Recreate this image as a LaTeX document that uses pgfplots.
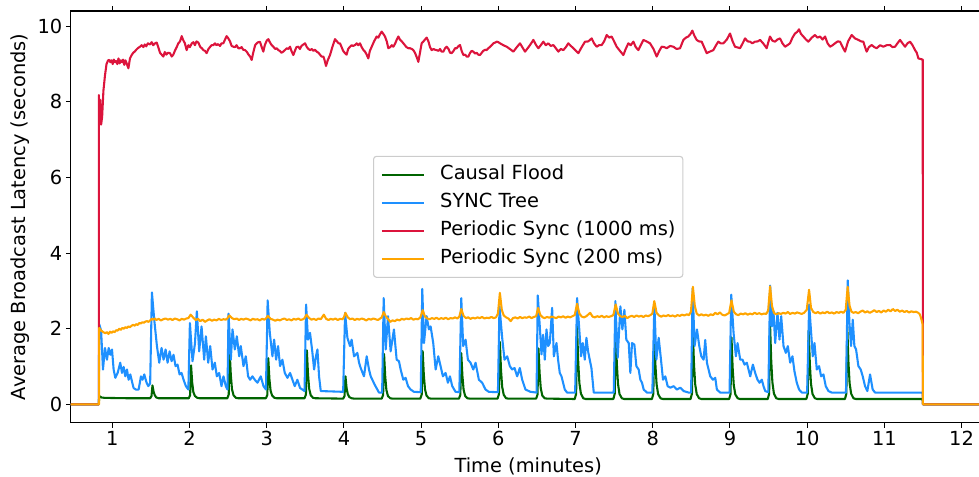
\documentclass[border=0pt]{standalone}
\usepackage{fontspec}
\setmainfont{DejaVu Sans}
\usepackage{pgfplots}
\pgfplotsset{compat=1.18}
\definecolor{cfgreen}{HTML}{006400}
\definecolor{stblue}{HTML}{1E90FF}
\definecolor{psred}{HTML}{DC143C}
\definecolor{psorange}{HTML}{FFA500}
\newcommand\ff{\fontsize{19.4bp}{23bp}\selectfont}
\begin{document}
\begin{tikzpicture}
\begin{axis}[
  at={(0,0)}, anchor=south west,
  scale only axis, width=915bp, height=411.7bp,
  xmin=0.461, xmax=12.313, ymin=-0.487, ymax=10.405,
  xtick={1,2,3,4,5,6,7,8,9,10,11,12}, ytick={0,2,4,6,8,10},
  tick align=outside, major tick length=4.9bp,
  tick style={line width=1.1bp, black},
  axis line style={line width=1.1bp},
  tick label style={font=\ff},
  /pgf/number format/assume math mode=true,
  xlabel={Time (minutes)}, ylabel={Average Broadcast Latency (seconds)},
  label style={font=\ff},
  xlabel style={at={(axis description cs:0.5,-0.105)}, anchor=center},
  ylabel style={at={(axis description cs:-0.0553,0.5)}, anchor=center},
  every axis plot/.append style={line width=2.08bp, line join=round},
  legend cell align=left,
  legend image code/.code={\draw[#1] (0bp,0bp) -- (41.7bp,0bp);},
  legend style={at={(axis description cs:0.5,0.5)}, anchor=center,
    draw=black!20, line width=1.1bp, rounded corners=3bp,
    fill=white, fill opacity=0.8, text opacity=1, font=\ff,
    inner xsep=7.3bp, inner ysep=9bp, row sep=9bp, column sep=15.6bp,
    nodes={inner xsep=0bp, inner ysep=0bp, text height=14.5bp, text depth=4.5bp}},
]
% Causal Flood
\addplot[cfgreen] coordinates {
(0.3,0)(0.825,0)(0.83,0.22)(0.86,0.18)(0.9,0.17)(1.2,0.16)
(1.49,0.16)(1.508,0.22)(1.52,0.5)(1.535,0.33)(1.55,0.24)(1.57,0.18)(1.6,0.16)
(1.99,0.16)(2.008,0.24)(2.02,1.03)(2.035,0.57)(2.05,0.32)(2.07,0.22)(2.1,0.17)(2.13,0.16)
(2.49,0.16)(2.508,0.26)(2.52,1.41)(2.535,0.78)(2.55,0.4)(2.57,0.24)(2.6,0.17)(2.63,0.16)
(2.99,0.16)(3.008,0.25)(3.02,1.22)(3.035,0.67)(3.05,0.36)(3.07,0.23)(3.1,0.17)(3.13,0.16)
(3.49,0.16)(3.508,0.26)(3.52,1.43)(3.535,0.79)(3.55,0.41)(3.57,0.24)(3.6,0.17)(3.63,0.16)
(3.99,0.15)(4.008,0.22)(4.02,0.74)(4.035,0.42)(4.05,0.27)(4.07,0.19)(4.1,0.16)(4.13,0.15)
(4.49,0.15)(4.508,0.25)(4.52,1.33)(4.535,0.74)(4.55,0.38)(4.57,0.22)(4.6,0.16)(4.63,0.15)
(4.99,0.15)(5.008,0.26)(5.02,1.41)(5.035,0.78)(5.05,0.4)(5.07,0.23)(5.1,0.16)(5.13,0.15)
(5.49,0.15)(5.508,0.25)(5.52,1.35)(5.535,0.75)(5.55,0.39)(5.57,0.22)(5.6,0.16)(5.63,0.15)
(5.99,0.15)(6.008,0.27)(6.02,1.65)(6.035,0.9)(6.05,0.46)(6.07,0.25)(6.1,0.16)(6.13,0.15)
(6.49,0.15)(6.508,0.26)(6.52,1.48)(6.535,0.82)(6.55,0.42)(6.57,0.23)(6.6,0.16)(6.63,0.15)
(6.99,0.14)(7.008,0.28)(7.02,2.05)(7.035,1.12)(7.05,0.56)(7.07,0.28)(7.1,0.16)(7.13,0.14)
(7.49,0.14)(7.508,0.28)(7.52,1.96)(7.535,1.07)(7.55,0.54)(7.57,0.27)(7.6,0.16)(7.63,0.14)
(7.99,0.14)(8.008,0.28)(8.02,1.9)(8.035,1.04)(8.05,0.53)(8.07,0.27)(8.1,0.16)(8.13,0.14)
(8.49,0.14)(8.508,0.28)(8.52,1.9)(8.535,1.04)(8.55,0.53)(8.57,0.27)(8.6,0.16)(8.63,0.14)
(8.99,0.14)(9.008,0.27)(9.02,1.77)(9.035,0.97)(9.05,0.5)(9.07,0.26)(9.1,0.16)(9.13,0.14)
(9.49,0.14)(9.508,0.28)(9.52,2.1)(9.535,1.15)(9.55,0.58)(9.57,0.28)(9.6,0.16)(9.63,0.14)
(9.99,0.14)(10.008,0.28)(10.02,1.96)(10.035,1.07)(10.05,0.54)(10.07,0.27)(10.1,0.16)(10.13,0.14)
(10.49,0.14)(10.508,0.28)(10.52,2.05)(10.535,1.12)(10.55,0.56)(10.57,0.28)(10.6,0.16)(10.63,0.14)
(11.497,0.14)(11.5,0)(12.4,0)
};
\addlegendentry{Causal Flood}
% SYNC Tree
\addplot[stblue] coordinates {
(0.3,0)(0.825,0)(0.83,2.12)(0.855,1.95)(0.879,0.92)(0.905,1.49)(0.931,1.18)(0.953,1.49)(0.974,1.31)(0.996,1.45)(1.017,0.92)(1.039,0.70)(1.069,0.83)(1.103,1.10)(1.125,0.83)(1.147,0.99)(1.168,0.74)(1.190,0.92)(1.211,0.65)(1.233,0.79)(1.254,0.61)(1.276,0.43)(1.306,0.39)(1.341,0.39)(1.371,0.74)(1.392,0.65)(1.414,0.79)(1.444,0.57)(1.466,0.48)(1.49,0.55)
(1.513,2.96)(1.543,2.24)(1.578,1.54)(1.608,1.10)(1.638,1.49)(1.664,1.18)(1.690,1.45)(1.716,1.10)(1.742,1.40)(1.768,1.14)(1.793,1.31)(1.819,1.01)(1.845,1.05)(1.871,0.79)(1.897,0.83)(1.923,0.65)(1.953,0.48)(1.985,0.39)
(2.005,2.15)(2.039,1.14)(2.07,1.6)(2.095,2.46)(2.125,1.40)(2.156,2.06)(2.190,1.18)(2.212,1.80)(2.242,1.10)(2.268,1.54)(2.298,0.92)(2.328,1.10)(2.354,0.74)(2.384,0.83)(2.414,0.48)(2.440,0.74)(2.470,0.48)(2.492,0.39)
(2.505,2.40)(2.535,1.18)(2.557,1.98)(2.587,1.45)(2.613,1.80)(2.643,1.27)(2.664,1.54)(2.699,1.01)(2.729,1.27)(2.759,0.74)(2.785,0.65)(2.815,0.74)(2.845,0.65)(2.880,0.57)(2.923,0.74)(2.958,0.48)(2.99,0.39)
(3.012,2.75)(3.040,1.89)(3.074,1.27)(3.096,1.71)(3.122,1.18)(3.147,1.54)(3.173,1.01)(3.203,1.18)(3.234,0.83)(3.268,0.70)(3.303,0.83)(3.333,0.65)(3.363,0.48)(3.397,0.65)(3.432,0.43)(3.462,0.39)(3.49,0.35)
(3.51,2.64)(3.535,1.71)(3.561,1.89)(3.59,1.40)(3.614,0.92)(3.636,1.25)(3.657,1.45)(3.678,0.74)(3.70,0.35)(3.99,0.33)
(4.015,2.42)(4.045,1.76)(4.079,1.54)(4.10,1.71)(4.131,1.27)(4.174,1.36)(4.196,1.10)(4.217,0.96)(4.26,0.74)(4.295,1.27)(4.325,0.92)(4.347,0.74)(4.368,0.65)(4.398,0.52)(4.433,0.39)(4.454,0.31)(4.495,0.31)
(4.515,2.81)(4.541,1.45)(4.571,2.33)(4.605,1.40)(4.648,1.98)(4.683,1.18)(4.713,1.14)(4.735,0.92)(4.769,0.65)(4.799,0.70)(4.830,0.48)(4.864,0.39)(4.907,0.33)(4.995,0.32)
(5.015,3.05)(5.037,1.62)(5.071,2.33)(5.101,1.98)(5.123,2.06)(5.157,1.62)(5.188,0.92)(5.222,1.27)(5.252,1.01)(5.282,0.74)(5.317,0.83)(5.347,0.57)(5.373,0.74)(5.403,0.48)(5.446,0.33)(5.495,0.32)
(5.52,2.81)(5.545,1.54)(5.576,1.71)(5.606,1.18)(5.64,1.10)(5.675,0.92)(5.705,1.10)(5.727,0.87)(5.748,0.65)(5.791,0.57)(5.834,0.39)(5.877,0.33)(5.995,0.32)
(6.015,2.59)(6.05,1.76)(6.08,1.18)(6.115,1.27)(6.149,1.01)(6.179,0.92)(6.21,0.96)(6.244,0.74)(6.278,0.96)(6.309,0.65)(6.352,0.39)(6.416,0.33)(6.495,0.31)
(6.511,2.88)(6.537,2.06)(6.559,1.32)(6.58,1.84)(6.602,1.18)(6.624,1.98)(6.645,1.54)(6.667,1.62)(6.697,2.55)(6.719,1.27)(6.753,1.62)(6.774,1.18)(6.796,0.83)(6.818,0.74)(6.839,0.57)(6.861,0.39)(6.891,0.31)(6.995,0.31)
(7.02,2.81)(7.046,2.06)(7.072,1.27)(7.094,1.62)(7.12,1.18)(7.141,1.76)(7.163,1.40)(7.184,1.18)(7.206,0.96)(7.236,0.31)(7.495,0.31)
(7.516,2.73)(7.546,1.23)(7.581,2.59)(7.607,1.98)(7.633,2.50)(7.658,1.71)(7.689,1.62)(7.71,0.83)(7.732,1.62)(7.762,1.58)(7.788,1.01)(7.818,0.92)(7.84,0.65)(7.861,0.57)(7.883,0.39)(7.926,0.31)(7.995,0.31)
(8.021,2.64)(8.047,1.18)(8.077,1.76)(8.107,1.18)(8.133,0.65)(8.163,0.74)(8.193,0.48)(8.228,0.44)(8.271,0.48)(8.314,0.39)(8.357,0.44)(8.40,0.35)(8.465,0.31)(8.497,0.31)
(8.517,3.07)(8.542,1.54)(8.573,1.98)(8.603,1.54)(8.629,1.27)(8.659,1.18)(8.68,1.7)(8.702,1.10)(8.745,0.74)(8.78,0.65)(8.81,0.70)(8.831,0.39)(8.874,0.31)(8.995,0.31)
(9.017,2.90)(9.047,1.89)(9.077,1.27)(9.099,1.62)(9.133,1.18)(9.163,1.18)(9.189,1.05)(9.219,1.10)(9.241,0.92)(9.263,0.74)(9.297,1.05)(9.327,0.83)(9.357,0.65)(9.383,0.57)(9.413,0.65)(9.435,0.48)(9.457,0.35)(9.497,0.32)
(9.521,3.14)(9.543,2.06)(9.564,2.46)(9.586,1.62)(9.616,2.42)(9.642,1.71)(9.664,2.33)(9.694,1.54)(9.724,1.36)(9.75,1.54)(9.78,1.10)(9.81,1.27)(9.836,0.87)(9.866,0.57)(9.896,0.39)(9.931,0.31)(10.0,0.31)
(10.026,2.64)(10.052,1.89)(10.073,1.27)(10.095,1.62)(10.125,0.92)(10.155,1.01)(10.181,0.74)(10.211,0.79)(10.241,0.48)(10.276,0.35)(10.319,0.31)(10.503,0.31)
(10.526,3.28)(10.548,2.15)(10.569,1.54)(10.591,2.24)(10.612,1.54)(10.634,1.45)(10.664,1.01)(10.694,0.92)(10.72,0.74)(10.75,0.48)(10.78,0.35)(10.815,0.79)(10.849,0.39)(10.88,0.31)(11.497,0.31)(11.5,0)(12.4,0)
};
\addlegendentry{SYNC Tree}
% Periodic Sync (1000 ms)
\addplot[psred] coordinates {
(0.3,0)(0.825,0)(0.826,8.18)(0.835,7.45)(0.845,8.05)(0.855,7.40)(0.868,7.6)(0.885,8.3)(0.905,8.7)(0.925,9.0)(0.945,9.1)(0.961,9.11)(0.975,9.05)(0.99,9.1)(1.005,9.0)(1.02,9.12)(1.035,9.05)(1.05,9.08)(1.065,9.0)(1.08,9.15)(1.095,9.02)(1.11,9.1)(1.125,9.05)(1.14,9.12)(1.155,8.98)(1.17,9.1)(1.186,9.02)(1.208,8.89)(1.229,9.15)(1.251,9.24)(1.27,9.3)(1.29,9.33)(1.31,9.38)(1.33,9.42)(1.359,9.46)(1.38,9.5)(1.402,9.45)(1.42,9.52)(1.44,9.47)(1.46,9.55)(1.488,9.52)(1.51,9.58)(1.53,9.5)(1.555,9.55)(1.575,9.57)(1.595,9.45)(1.618,9.3)(1.639,9.25)(1.661,9.2)(1.68,9.32)(1.70,9.25)(1.72,9.3)(1.747,9.29)(1.77,9.2)(1.79,9.25)(1.81,9.35)(1.834,9.45)(1.855,9.55)(1.877,9.6)(1.899,9.74)(1.915,9.65)(1.94,9.55)(1.963,9.37)(1.985,9.5)(2.005,9.45)(2.03,9.55)(2.05,9.58)(2.07,9.5)(2.09,9.6)(2.114,9.57)(2.14,9.45)(2.16,9.42)(2.179,9.37)(2.2,9.35)(2.222,9.29)(2.245,9.4)(2.265,9.45)(2.285,9.5)(2.309,9.5)(2.33,9.55)(2.35,9.5)(2.37,9.53)(2.395,9.48)(2.415,9.55)(2.438,9.55)(2.46,9.65)(2.481,9.74)(2.503,9.68)(2.525,9.6)(2.545,9.48)(2.568,9.46)(2.59,9.45)(2.61,9.5)(2.632,9.42)(2.654,9.42)(2.675,9.45)(2.695,9.38)(2.72,9.37)(2.74,9.33)(2.765,9.25)(2.785,9.2)(2.805,9.11)(2.825,9.3)(2.85,9.5)(2.87,9.55)(2.89,9.58)(2.913,9.59)(2.935,9.45)(2.956,9.33)(2.975,9.5)(3.0,9.62)(3.021,9.66)(3.04,9.58)(3.065,9.5)(3.086,9.46)(3.11,9.4)(3.13,9.42)(3.15,9.37)(3.17,9.35)(3.19,9.3)(3.215,9.33)(3.24,9.38)(3.26,9.42)(3.28,9.4)(3.302,9.46)(3.32,9.35)(3.345,9.24)(3.365,9.35)(3.385,9.45)(3.41,9.46)(3.43,9.4)(3.45,9.48)(3.475,9.52)(3.496,9.55)(3.52,9.45)(3.54,9.4)(3.561,9.37)(3.585,9.4)(3.605,9.35)(3.625,9.38)(3.647,9.33)(3.67,9.3)(3.69,9.25)(3.71,9.2)(3.734,9.2)(3.75,9.1)(3.768,8.95)(3.79,9.1)(3.82,9.24)(3.85,9.45)(3.885,9.66)(3.91,9.6)(3.93,9.55)(3.949,9.55)(3.97,9.45)(3.99,9.35)(4.014,9.29)(4.035,9.25)(4.055,9.4)(4.079,9.46)(4.1,9.5)(4.12,9.48)(4.144,9.505)(4.165,9.55)(4.185,9.5)(4.208,9.55)(4.23,9.45)(4.25,9.38)(4.273,9.33)(4.295,9.25)(4.316,9.15)(4.336,9.35)(4.36,9.46)(4.39,9.6)(4.424,9.73)(4.445,9.7)(4.465,9.78)(4.489,9.86)(4.51,9.8)(4.532,9.73)(4.555,9.6)(4.575,9.42)(4.6,9.45)(4.62,9.5)(4.64,9.46)(4.665,9.55)(4.685,9.65)(4.705,9.73)(4.725,9.65)(4.75,9.6)(4.77,9.55)(4.79,9.5)(4.81,9.45)(4.835,9.42)(4.856,9.42)(4.88,9.4)(4.899,9.37)(4.92,9.3)(4.94,9.2)(4.964,9.06)(4.985,9.3)(5.007,9.55)(5.03,9.6)(5.05,9.65)(5.072,9.7)(5.095,9.6)(5.115,9.45)(5.137,9.37)(5.16,9.4)(5.18,9.38)(5.202,9.37)(5.225,9.35)(5.245,9.4)(5.265,9.33)(5.288,9.33)(5.31,9.42)(5.331,9.46)(5.355,9.4)(5.375,9.3)(5.396,9.29)(5.42,9.35)(5.44,9.42)(5.461,9.42)(5.485,9.48)(5.504,9.505)(5.525,9.35)(5.547,9.24)(5.57,9.25)(5.59,9.2)(5.612,9.2)(5.635,9.3)(5.655,9.35)(5.676,9.33)(5.7,9.28)(5.72,9.3)(5.74,9.25)(5.763,9.24)(5.785,9.3)(5.805,9.35)(5.83,9.38)(5.849,9.37)(5.87,9.42)(5.89,9.45)(5.915,9.5)(5.936,9.55)(5.96,9.57)(5.979,9.594)(6.0,9.58)
(6.022,9.55)(6.065,9.5)(6.108,9.46)(6.15,9.4)(6.195,9.33)(6.24,9.45)(6.281,9.55)(6.31,9.45)(6.346,9.33)(6.38,9.42)(6.411,9.505)(6.454,9.64)(6.49,9.5)(6.519,9.42)(6.55,9.5)(6.583,9.594)(6.615,9.5)(6.648,9.55)(6.68,9.48)(6.713,9.505)(6.745,9.42)(6.778,9.33)(6.81,9.4)(6.842,9.37)(6.875,9.45)(6.907,9.55)(6.94,9.48)(6.972,9.42)(7.005,9.35)(7.037,9.29)(7.08,9.45)(7.123,9.594)(7.165,9.6)(7.209,9.68)(7.24,9.55)(7.274,9.46)(7.305,9.5)(7.339,9.505)(7.37,9.6)(7.404,9.77)(7.435,9.7)(7.468,9.73)(7.5,9.6)(7.533,9.46)(7.575,9.35)(7.62,9.24)(7.65,9.4)(7.684,9.55)(7.715,9.5)(7.749,9.594)(7.78,9.45)(7.814,9.37)(7.845,9.5)(7.879,9.64)(7.92,9.6)(7.965,9.55)(8.01,9.4)(8.051,9.2)(8.085,9.35)(8.116,9.46)(8.15,9.45)(8.181,9.42)(8.225,9.48)(8.267,9.46)(8.31,9.4)(8.354,9.42)(8.397,9.64)(8.43,9.7)(8.461,9.73)(8.49,9.8)(8.513,9.885)(8.54,9.75)(8.569,9.64)(8.6,9.6)(8.634,9.594)(8.665,9.45)(8.699,9.29)(8.74,9.33)(8.785,9.37)(8.82,9.5)(8.85,9.594)(8.88,9.55)(8.915,9.55)(8.96,9.65)(9.001,9.81)(9.035,9.6)(9.066,9.46)(9.1,9.44)(9.131,9.42)(9.165,9.55)(9.196,9.68)(9.23,9.6)(9.26,9.594)(9.29,9.55)(9.325,9.594)(9.36,9.6)(9.39,9.64)(9.43,9.55)(9.476,9.42)(9.5,9.6)(9.519,9.73)(9.55,9.62)(9.584,9.594)(9.615,9.65)(9.649,9.68)(9.68,9.55)(9.714,9.46)(9.745,9.5)(9.778,9.55)(9.81,9.7)(9.843,9.81)(9.87,9.85)(9.895,9.92)(9.92,9.8)(9.951,9.73)(9.985,9.65)(10.016,9.594)(10.06,9.7)(10.102,9.77)(10.135,9.7)(10.167,9.73)(10.2,9.65)(10.232,9.73)(10.265,9.55)(10.297,9.46)(10.33,9.5)(10.361,9.55)(10.395,9.6)(10.426,9.594)(10.46,9.45)(10.491,9.33)(10.53,9.6)(10.577,9.77)(10.62,9.68)(10.664,9.64)(10.7,9.6)(10.728,9.594)(10.75,9.45)(10.771,9.33)(10.8,9.45)(10.836,9.505)(10.87,9.45)(10.901,9.42)(10.945,9.5)(10.987,9.46)(11.03,9.5)(11.074,9.505)(11.105,9.45)(11.139,9.46)(11.17,9.55)(11.203,9.64)(11.235,9.55)(11.268,9.46)(11.3,9.55)(11.333,9.594)(11.365,9.5)(11.398,9.37)(11.42,9.3)(11.441,9.15)(11.497,9.12)(11.5,0)(12.4,0)
};
\addlegendentry{Periodic Sync (1000 ms)}
% Periodic Sync (200 ms)
\addplot[psorange] coordinates {
(0.3,0)(0.828,0)(0.83,2.02)(0.85,1.96)(0.87,1.93)(0.89,1.9)(0.91,1.88)(0.93,1.91)(0.95,1.86)(0.97,1.92)(0.99,1.89)(1.01,1.93)(1.03,1.91)(1.05,1.96)(1.07,1.95)(1.09,2.0)(1.11,1.97)(1.13,2.02)(1.15,2.0)(1.17,2.04)(1.19,2.02)(1.21,2.06)(1.23,2.04)(1.25,2.08)(1.27,2.1)(1.29,2.08)(1.31,2.12)(1.33,2.1)(1.35,2.15)(1.37,2.14)(1.39,2.17)(1.41,2.16)(1.43,2.19)(1.45,2.2)(1.47,2.18)(1.49,2.22)(1.51,2.26)(1.53,2.24)(1.55,2.27)(1.57,2.23)(1.6,2.26)(1.63,2.22)(1.66,2.25)(1.69,2.27)(1.72,2.24)(1.75,2.26)(1.78,2.23)(1.81,2.27)(1.84,2.25)(1.87,2.22)(1.9,2.26)(1.93,2.24)(1.96,2.27)(1.985,2.28)(2.015,2.37)(2.05,2.29)(2.08,2.23)(2.11,2.26)(2.14,2.2)(2.17,2.24)(2.2,2.18)(2.23,2.22)(2.26,2.25)(2.29,2.21)(2.32,2.24)(2.35,2.22)(2.38,2.26)(2.41,2.23)(2.44,2.25)(2.47,2.24)(2.49,2.27)(2.515,2.35)(2.55,2.28)(2.58,2.25)(2.61,2.27)(2.64,2.23)(2.67,2.26)(2.7,2.24)(2.73,2.27)(2.76,2.25)(2.79,2.22)(2.82,2.26)(2.85,2.24)(2.88,2.25)(2.91,2.22)(2.94,2.26)(2.97,2.24)(2.99,2.27)(3.015,2.34)(3.05,2.26)(3.08,2.24)(3.11,2.21)(3.14,2.24)(3.17,2.22)(3.2,2.25)(3.23,2.27)(3.26,2.23)(3.29,2.25)(3.32,2.22)(3.35,2.26)(3.38,2.24)(3.41,2.27)(3.44,2.23)(3.47,2.25)(3.49,2.28)(3.515,2.37)(3.55,2.28)(3.58,2.24)(3.61,2.26)(3.64,2.23)(3.67,2.27)(3.7,2.25)(3.74,2.37)(3.77,2.26)(3.8,2.23)(3.83,2.26)(3.86,2.24)(3.89,2.27)(3.92,2.23)(3.95,2.26)(3.98,2.25)(4.0,2.3)(4.02,2.42)(4.05,2.3)(4.08,2.25)(4.11,2.27)(4.14,2.23)(4.17,2.26)(4.2,2.24)(4.23,2.27)(4.26,2.25)(4.29,2.22)(4.32,2.26)(4.35,2.24)(4.38,2.27)(4.41,2.25)(4.44,2.23)(4.47,2.27)(4.49,2.3)(4.515,2.44)(4.545,2.32)(4.57,2.26)(4.6,2.18)(4.63,2.22)(4.66,2.2)(4.69,2.24)(4.72,2.22)(4.75,2.26)(4.78,2.24)(4.81,2.27)(4.84,2.25)(4.87,2.28)(4.9,2.24)(4.93,2.26)(4.96,2.25)(4.99,2.3)(5.02,2.49)(5.05,2.32)(5.08,2.27)(5.11,2.25)(5.14,2.28)(5.17,2.26)(5.2,2.29)(5.23,2.25)(5.26,2.28)(5.29,2.26)(5.32,2.29)(5.35,2.25)(5.38,2.28)(5.41,2.27)(5.44,2.3)(5.47,2.27)(5.495,2.32)(5.52,2.52)(5.55,2.34)(5.58,2.28)(5.61,2.3)(5.64,2.26)(5.67,2.29)(5.7,2.27)(5.73,2.3)(5.76,2.28)(5.79,2.31)(5.82,2.27)(5.85,2.29)(5.88,2.28)(5.91,2.31)(5.94,2.28)(5.97,2.3)(5.995,2.4)(6.02,2.95)(6.045,2.5)(6.07,2.35)(6.1,2.3)(6.13,2.27)(6.16,2.2)(6.19,2.28)(6.22,2.3)(6.25,2.27)(6.28,2.31)(6.31,2.28)(6.34,2.3)(6.37,2.29)(6.4,2.32)(6.43,2.28)(6.46,2.31)(6.49,2.33)(6.515,2.55)(6.545,2.36)(6.575,2.3)(6.6,2.28)(6.63,2.31)(6.66,2.29)(6.69,2.32)(6.72,2.3)(6.75,2.28)(6.78,2.32)(6.81,2.3)(6.84,2.33)(6.87,2.29)(6.9,2.32)(6.93,2.3)(6.96,2.33)(6.99,2.36)(7.02,2.66)(7.05,2.4)(7.08,2.32)(7.11,2.3)(7.14,2.33)(7.19,2.42)(7.22,2.32)(7.25,2.3)(7.28,2.33)(7.31,2.31)(7.34,2.34)(7.37,2.3)(7.4,2.33)(7.43,2.31)(7.46,2.33)(7.49,2.36)(7.52,2.64)(7.55,2.4)(7.58,2.33)(7.61,2.31)(7.64,2.34)(7.67,2.28)(7.7,2.32)(7.73,2.34)(7.76,2.31)(7.79,2.35)(7.82,2.32)(7.85,2.34)(7.88,2.31)(7.91,2.35)(7.94,2.33)(7.97,2.36)(7.995,2.4)(8.02,2.73)(8.05,2.42)(8.08,2.35)(8.11,2.32)(8.14,2.35)(8.17,2.33)(8.2,2.36)(8.23,2.33)(8.26,2.35)(8.29,2.32)(8.32,2.36)(8.35,2.34)(8.38,2.37)(8.41,2.35)(8.44,2.38)(8.47,2.36)(8.495,2.45)(8.52,3.11)(8.545,2.6)(8.57,2.4)(8.6,2.35)(8.63,2.38)(8.66,2.35)(8.69,2.37)(8.72,2.34)(8.75,2.38)(8.78,2.36)(8.81,2.42)(8.84,2.38)(8.87,2.43)(8.9,2.37)(8.93,2.35)(8.96,2.38)(8.99,2.42)(9.02,2.75)(9.05,2.45)(9.08,2.38)(9.11,2.36)(9.14,2.4)(9.17,2.38)(9.2,2.41)(9.23,2.37)(9.26,2.4)(9.29,2.38)(9.32,2.42)(9.35,2.39)(9.38,2.41)(9.41,2.38)(9.44,2.4)(9.47,2.39)(9.495,2.48)(9.52,3.12)(9.545,2.6)(9.57,2.42)(9.6,2.38)(9.63,2.41)(9.66,2.39)(9.69,2.42)(9.72,2.4)(9.75,2.44)(9.78,2.39)(9.81,2.42)(9.84,2.4)(9.87,2.43)(9.9,2.41)(9.93,2.39)(9.96,2.42)(9.995,2.5)(10.025,3.03)(10.05,2.55)(10.08,2.44)(10.11,2.41)(10.14,2.44)(10.17,2.4)(10.2,2.43)(10.23,2.41)(10.26,2.45)(10.29,2.41)(10.32,2.43)(10.35,2.4)(10.38,2.44)(10.41,2.42)(10.44,2.45)(10.47,2.42)(10.5,2.5)(10.525,3.11)(10.55,2.6)(10.575,2.45)(10.6,2.42)(10.63,2.44)(10.66,2.41)(10.69,2.45)(10.72,2.48)(10.75,2.43)(10.78,2.46)(10.81,2.42)(10.84,2.45)(10.87,2.49)(10.9,2.44)(10.93,2.47)(10.96,2.43)(10.99,2.48)(11.02,2.45)(11.05,2.5)(11.08,2.46)(11.11,2.52)(11.14,2.47)(11.17,2.5)(11.2,2.45)(11.23,2.48)(11.26,2.44)(11.29,2.47)(11.32,2.43)(11.35,2.46)(11.38,2.44)(11.41,2.45)(11.44,2.42)(11.46,2.38)(11.48,2.25)(11.495,2.12)(11.5,0)(12.4,0)
};
\addlegendentry{Periodic Sync (200 ms)}
\end{axis}
\pgfresetboundingbox
\path[use as bounding box] (-70.7bp,-54.3bp) rectangle (908.3bp,422.7bp);
\end{tikzpicture}
\end{document}
